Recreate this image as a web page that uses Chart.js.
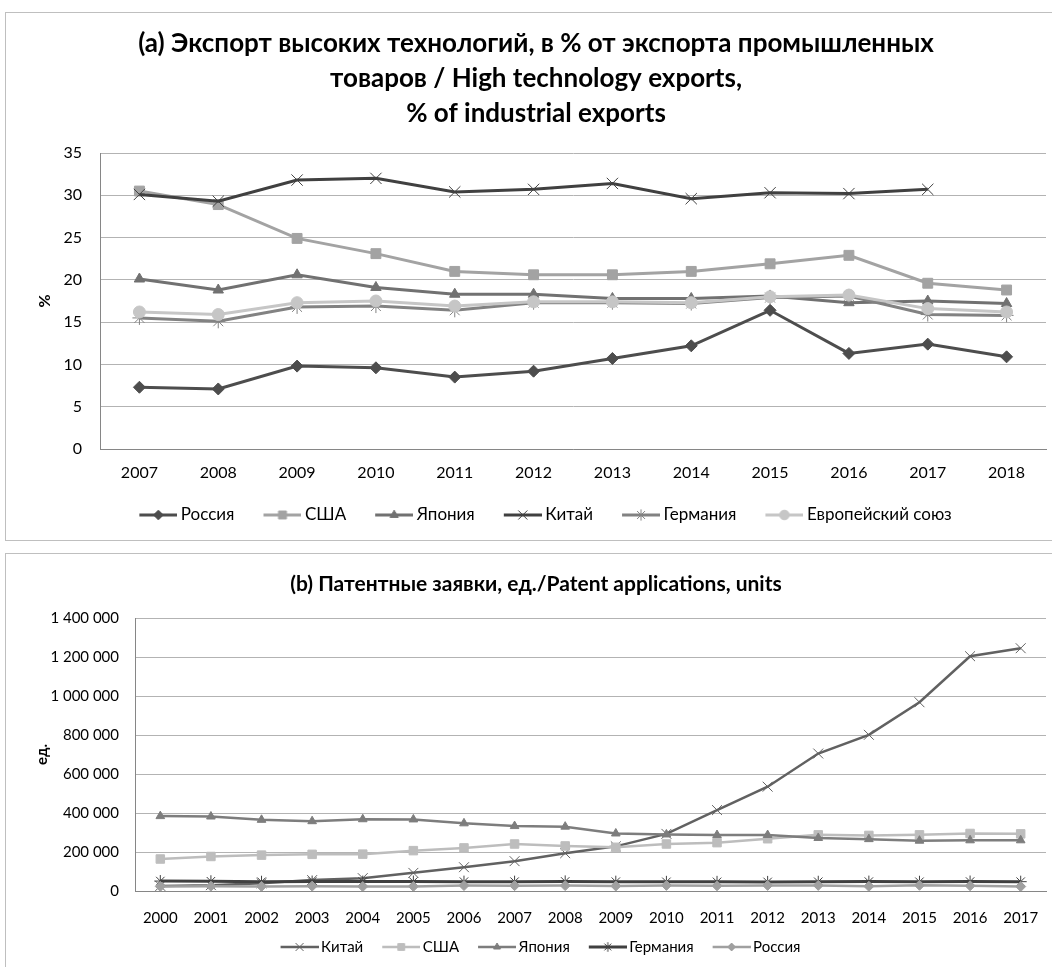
<!DOCTYPE html>
<html lang="ru">
<head>
<meta charset="UTF-8">
<title>Экспорт высоких технологий и патентные заявки</title>
<style>
    html, body { margin: 0; padding: 0; background: #fff; overflow: hidden; }
    body { width: 1052px; height: 967px; position: relative; }
    .box { position: absolute; left: 5px; width: 1060px; border: 1px solid #bfbfbf; background: #fff; }
    #boxA { top: 12px; height: 527px; }
    #boxB { top: 553px; height: 428px; }
    .box canvas { display: block; }
</style>
</head>
<body>
<div class="box" id="boxA"><canvas id="chartA"></canvas></div>
<div class="box" id="boxB"><canvas id="chartB"></canvas></div>

<script src="https://cdn.jsdelivr.net/npm/chart.js"></script>
<script>
    // (a) high-tech exports, % of industrial exports
    const yearsA = ['2007', '2008', '2009', '2010', '2011', '2012', '2013', '2014', '2015', '2016', '2017', '2018'];
    const russiaA  = [7.3, 7.1, 9.8, 9.6, 8.5, 9.2, 10.7, 12.2, 16.4, 11.3, 12.4, 10.9];
    const usaA     = [30.5, 28.9, 24.9, 23.1, 21.0, 20.6, 20.6, 21.0, 21.9, 22.9, 19.6, 18.8];
    const japanA   = [20.1, 18.8, 20.6, 19.1, 18.3, 18.3, 17.8, 17.8, 18.1, 17.3, 17.5, 17.2];
    const chinaA   = [30.1, 29.3, 31.8, 32.0, 30.4, 30.7, 31.4, 29.6, 30.3, 30.2, 30.7, null];
    const germanyA = [15.5, 15.1, 16.8, 16.9, 16.4, 17.3, 17.3, 17.2, 17.9, 18.1, 15.9, 15.8];
    const euA      = [16.2, 15.9, 17.3, 17.5, 16.9, 17.4, 17.4, 17.3, 18.0, 18.2, 16.6, 16.2];

    // (b) patent applications, units
    const yearsB = ['2000', '2001', '2002', '2003', '2004', '2005', '2006', '2007', '2008',
                    '2009', '2010', '2011', '2012', '2013', '2014', '2015', '2016', '2017'];
    const chinaB   = [26000, 30000, 40000, 56000, 66000, 93000, 122000, 153000, 194000,
                      229000, 293000, 415000, 535000, 705000, 801000, 968000, 1204000, 1245000];
    const usaB     = [164000, 177000, 184000, 188000, 189000, 207000, 221000, 241000, 231000,
                      224000, 241000, 248000, 268000, 288000, 285000, 288000, 295000, 293000];
    const japanB   = [384000, 382000, 365000, 358000, 368000, 367000, 347000, 333000, 330000,
                      295000, 290000, 287000, 287000, 272000, 266000, 258000, 260000, 260000];
    const germanyB = [51000, 50000, 47500, 48500, 48300, 48400, 48000, 47900, 49200,
                      47800, 47000, 46900, 46600, 47400, 48200, 47400, 48500, 47800];
    const russiaB  = [23400, 24800, 23700, 24900, 22900, 23600, 27900, 27500, 27700,
                      25600, 28700, 26500, 28700, 28800, 24100, 29300, 26800, 22800];

    const FONT = 'Lato, "Open Sans", sans-serif';
    Chart.defaults.font.family = FONT;
    Chart.defaults.color = '#000';

    // legend entry picture: a short line with the marker in the middle,
    // pushed to the right end of a slot that is boxW wide (the blank part spaces the items)
    function legendIcon(color, style, radius, lineW, boxW) {
        const c = document.createElement('canvas');
        c.width = boxW + 10; c.height = 16;
        const g = c.getContext('2d');
        g.strokeStyle = color;
        g.lineWidth = lineW;
        g.beginPath(); g.moveTo(c.width - 38, 8); g.lineTo(c.width, 8); g.stroke();
        g.fillStyle = color;
        g.lineWidth = 1;
        Chart.helpers.drawPoint(g, {pointStyle: style, radius: radius, borderWidth: 1, rotation: 0}, c.width - 19, 8);
        return c;
    }

    function series(label, data, color, style, radius, lineW, i, boxW) {
        return {
            label: label,
            data: data,
            borderColor: color,
            backgroundColor: color,
            pointBackgroundColor: color,
            pointBorderColor: color,
            borderWidth: lineW,
            pointStyle: style,
            pointRadius: radius,
            pointBorderWidth: 1,
            tension: 0,
            order: -i,
            icon: legendIcon(color, style, radius * 0.8, lineW, boxW)
        };
    }

    function legendOpts(size, boxW) {
        return {
            position: 'bottom',
            labels: {
                usePointStyle: true,
                pointStyleWidth: boxW,
                padding: 10,
                font: {size: size},
                color: '#000',
                generateLabels(chart) {
                    return chart.data.datasets.map((ds, i) => ({
                        text: ds.label,
                        pointStyle: ds.icon,
                        datasetIndex: i,
                        hidden: false,
                        fontColor: '#000',
                        lineWidth: 0,
                        strokeStyle: 'rgba(0,0,0,0)',
                        fillStyle: 'rgba(0,0,0,0)'
                    }));
                }
            }
        };
    }

    const BOX_A = 52;
    const BOX_B = 42;

    new Chart(document.getElementById('chartA'), {
        type: 'line',
        data: {
            labels: yearsA,
            datasets: [
                series('Россия', russiaA, '#4d4d4d', 'rectRot', 6, 3, 0, BOX_A),
                series('США', usaA, '#a3a3a3', 'rect', 7, 3, 1, BOX_A),
                series('Япония', japanA, '#717171', 'triangle', 6, 3, 2, BOX_A),
                series('Китай', chinaA, '#404040', 'crossRot', 8, 3, 3, BOX_A),
                series('Германия', germanyA, '#828282', 'star', 7, 3, 4, BOX_A),
                series('Европейский союз', euA, '#c6c6c6', 'circle', 6, 3, 5, BOX_A)
            ]
        },
        options: {
            responsive: true,
            maintainAspectRatio: false,
            animation: false,
            layout: {padding: {left: 20, right: 20, top: 0, bottom: 6.5}},
            plugins: {
                tooltip: {enabled: false},
                title: {
                    display: true,
                    text: ['(a) Экспорт высоких технологий, в % от экспорта промышленных',
                           'товаров / High technology exports,',
                           '% of industrial exports'],
                    color: '#000',
                    font: {size: 26, weight: 'bold', lineHeight: 35 / 26},
                    padding: {top: 13.5, bottom: 21.5}
                },
                legend: legendOpts(17, BOX_A)
            },
            scales: {
                x: {
                    offset: true,
                    grid: {display: false, drawTicks: false},
                    border: {color: '#868686'},
                    ticks: {font: {size: 16}, padding: 14, color: '#000'},
                    afterFit(scale) { scale.height = 47.5; }
                },
                y: {
                    min: 0,
                    max: 35,
                    ticks: {stepSize: 5, font: {size: 16}, padding: 18, color: '#000'},
                    grid: {color: '#b3b3b3', drawTicks: false},
                    border: {color: '#868686'},
                    title: {display: true, text: '%', font: {size: 16, weight: 'bold'}, color: '#000', padding: {top: 9, bottom: 0}},
                    afterFit(scale) { scale.width = 74; }
                }
            }
        }
    });

    new Chart(document.getElementById('chartB'), {
        type: 'line',
        data: {
            labels: yearsB,
            datasets: [
                series('Китай', chinaB, '#616161', 'crossRot', 7, 2.5, 0, BOX_B),
                series('США', usaB, '#bdbdbd', 'rect', 6, 2.5, 1, BOX_B),
                series('Япония', japanB, '#7d7d7d', 'triangle', 5, 2.5, 2, BOX_B),
                series('Германия', germanyB, '#404040', 'star', 6, 3, 3, BOX_B),
                series('Россия', russiaB, '#a0a0a0', 'rectRot', 5, 2.5, 4, BOX_B)
            ]
        },
        options: {
            responsive: true,
            maintainAspectRatio: false,
            animation: false,
            layout: {padding: {left: 20, right: 20, top: 0, bottom: 17.5}},
            plugins: {
                tooltip: {enabled: false},
                title: {
                    display: true,
                    text: '(b) Патентные заявки, ед./Patent applications, units',
                    color: '#000',
                    font: {size: 21, weight: 'bold', lineHeight: 1.2},
                    padding: {top: 17.4, bottom: 21.4}
                },
                legend: legendOpts(15, BOX_B)
            },
            scales: {
                x: {
                    offset: true,
                    grid: {display: false, drawTicks: false},
                    border: {color: '#868686'},
                    ticks: {font: {size: 15}, padding: 18, color: '#000'},
                    afterFit(scale) { scale.height = 38.5; }
                },
                y: {
                    min: 0,
                    max: 1400000,
                    ticks: {
                        stepSize: 200000,
                        font: {size: 15},
                        padding: 16,
                        color: '#000',
                        callback: v => String(v).replace(/\B(?=(\d{3})+(?!\d))/g, ' ')
                    },
                    grid: {color: '#b3b3b3', drawTicks: false},
                    border: {color: '#868686'},
                    title: {display: true, text: 'ед.', font: {size: 15, weight: 'bold'}, color: '#000', padding: {top: 7, bottom: 0}},
                    afterFit(scale) { scale.width = 109; }
                }
            }
        }
    });
</script>
</body>
</html>
